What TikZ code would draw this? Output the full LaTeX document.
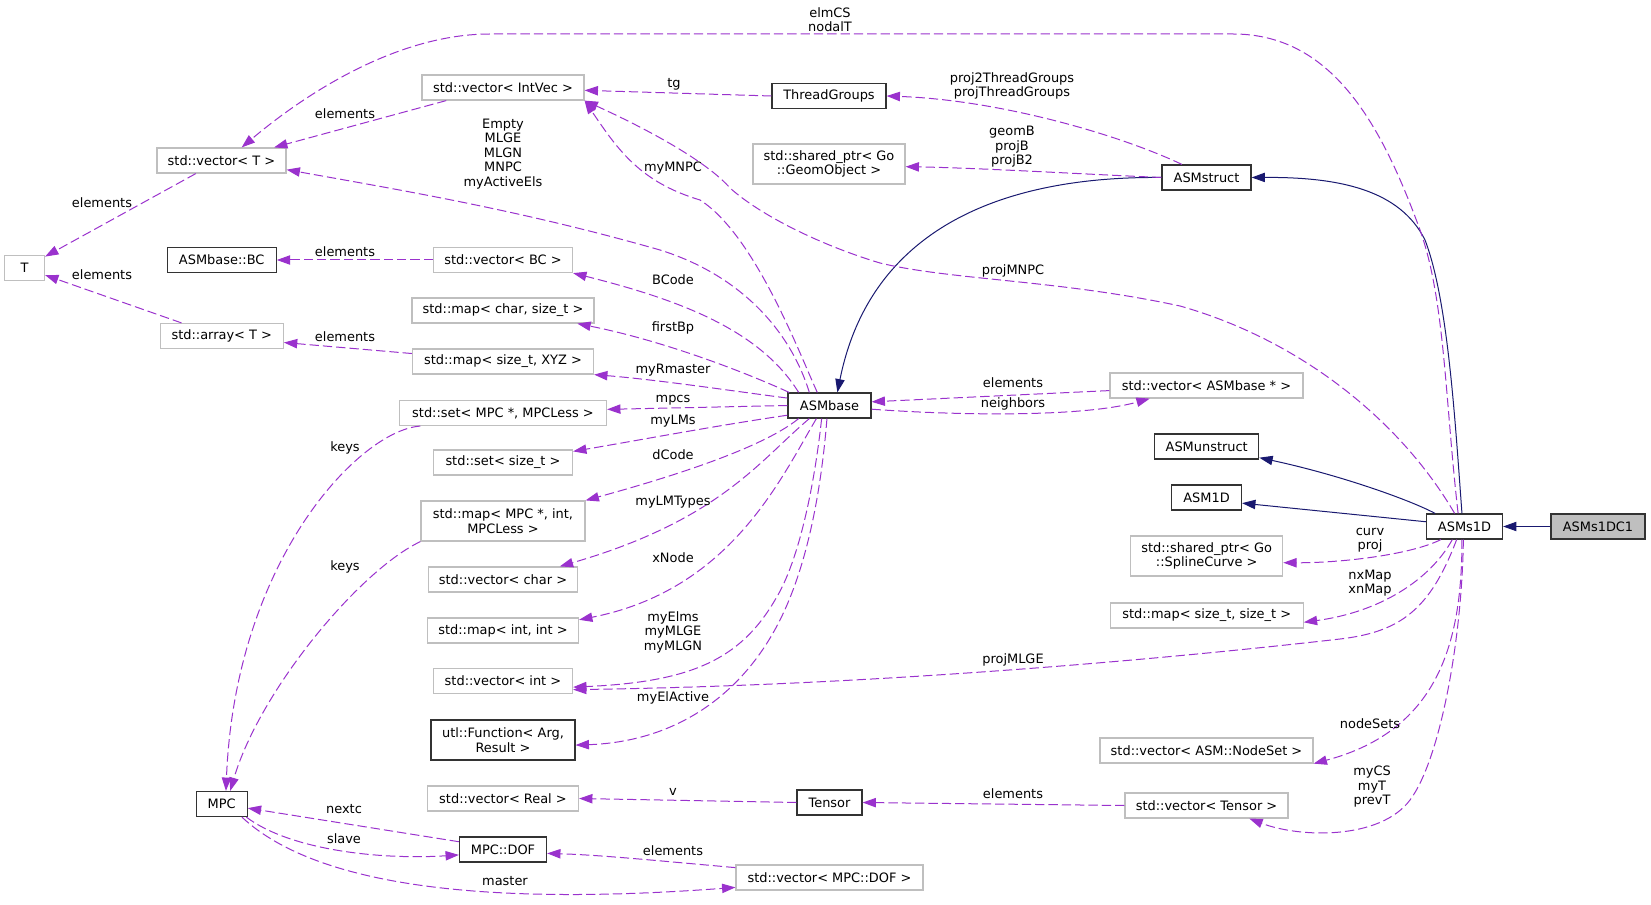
\documentclass[tikz,border=0pt]{standalone}
\usepackage{fontspec}
\setmainfont{DejaVu Sans}
\usetikzlibrary{arrows.meta}
\definecolor{edgeuse}{HTML}{9A32CD}
\definecolor{edgeinh}{HTML}{191970}
\definecolor{undocgray}{HTML}{BFBFBF}

\begin{document}
\begin{tikzpicture}[x=0.75pt,y=-0.75pt,
  every node/.style={font=\fontsize{9.7}{10.9}\selectfont},
  box/.style={draw,inner sep=0pt,minimum height=18.75pt,align=center,fill=white},
  doc/.style={box,draw=black!80,line width=0.9pt},
  undoc/.style={box,draw=undocgray,line width=0.9pt},
  wd/.style={minimum width=#1*0.75pt},
  tall/.style={minimum height=30pt},
  usage/.style={draw=edgeuse,line width=0.75pt,dash pattern=on 7pt off 3pt,-{Triangle[length=10pt,width=7pt]}},
  inherit/.style={draw=edgeinh,line width=0.75pt,-{Triangle[length=10pt,width=7pt]}},
  lbl/.style={align=center,inner sep=0pt}]
\useasboundingbox (0,0) rectangle (1651,905);
% classes
\node[undoc,wd=40] (tnode) at (24.5,268) {T};
\node[undoc,wd=129] (vect) at (221.5,160.5) {std::vector< T >};
\node[doc,wd=109] (bc) at (221.7,260) {ASMbase::BC};
\node[undoc,wd=123] (arrayt) at (221.8,336) {std::array< T >};
\node[doc,wd=51] (mpc) at (221.7,804) {MPC};
\node[undoc,wd=162] (intvec) at (503,87.5) {std::vector< IntVec >};
\node[undoc,wd=139] (vecbc) at (503,260) {std::vector< BC >};
\node[undoc,wd=182] (mapchar) at (503,310.5) {std::map< char, size\_t >};
\node[undoc,wd=181] (mapxyz) at (503,361.5) {std::map< size\_t, XYZ >};
\node[undoc,wd=207] (setmpc) at (503,413) {std::set< MPC *, MPCLess >};
\node[undoc,wd=139] (setsize) at (503,462.5) {std::set< size\_t >};
\node[undoc,wd=164,tall] (mapmpc) at (503,521) {std::map< MPC *, int,\\MPCLess >};
\node[undoc,wd=149] (vecchar) at (503,579.5) {std::vector< char >};
\node[undoc,wd=151] (mapint) at (503,630.5) {std::map< int, int >};
\node[undoc,wd=139] (vecintg) at (503,681) {std::vector< int >};
\node[doc,wd=144,tall] (utlfun) at (503,740) {utl::Function< Arg,\\Result >};
\node[undoc,wd=151] (vecreal) at (503,798.5) {std::vector< Real >};
\node[doc,wd=87] (mpcdof) at (503,849.5) {MPC::DOF};
\node[doc,wd=114] (threadg) at (829,96) {ThreadGroups};
\node[undoc,wd=152,tall] (geomobj) at (829,164) {std::shared\_ptr< Go\\::GeomObject >};
\node[doc,wd=83] (asmbase) at (829.5,405.5) {ASMbase};
\node[doc,wd=65] (tensor) at (829.5,802.5) {Tensor};
\node[undoc,wd=187] (vecdof) at (829.5,877.5) {std::vector< MPC::DOF >};
\node[doc,wd=89] (asmstruct) at (1206.5,177.5) {ASMstruct};
\node[undoc,wd=193] (vecasm) at (1206.5,385.5) {std::vector< ASMbase * >};
\node[doc,wd=104] (asmun) at (1206.7,446.5) {ASMunstruct};
\node[doc,wd=70] (asm1d) at (1206.5,497.5) {ASM1D};
\node[undoc,wd=152,tall] (spline) at (1206.7,556) {std::shared\_ptr< Go\\::SplineCurve >};
\node[undoc,wd=193] (mapss) at (1206.7,615.5) {std::map< size\_t, size\_t >};
\node[undoc,wd=213] (nodeset) at (1206.5,750.5) {std::vector< ASM::NodeSet >};
\node[undoc,wd=163] (vectensor) at (1206.5,805.5) {std::vector< Tensor >};
\node[doc,wd=76] (asms1d) at (1464.5,526.5) {ASMs1D};
\node[doc,wd=94,fill=undocgray] (dc1) at (1598,526.5) {ASMs1DC1};
% inheritance
\draw[inherit] (dc1.west) -- (asms1d.east);
\draw[inherit] (asms1d.173) -- (asm1d.-9);
\draw[inherit] (asms1d.156) .. controls (1410,500) and (1340,475) .. (asmun.-12);
\draw[inherit] (asms1d.101) .. controls (1455,420) and (1448,300) .. (1425,240) .. controls (1400,190) and (1340,177) .. (asmstruct.east);
\draw[inherit] (asmstruct.west) .. controls (1000,176) and (870,230) .. (asmbase.59);
% members
\draw[usage] (asms1d.116) .. controls (1445,400) and (1445,300) .. (1420,230) .. controls (1380,120) and (1330,34) .. (1233,34) -- (490,34) .. controls (400,34) and (310,90) .. (vect.33)
  node[lbl] (l-elmcs) at (830,19.5) {elmCS\\nodalT};
\draw[usage] (intvec.193) -- (vect.14) node[lbl] (l-el1) at (345,114) {elements};
\draw[usage] (threadg.west) -- (intvec.-2) node[lbl] (l-tg) at (674,84) {tg};
\draw[usage] (asmstruct.152) .. controls (1120,135) and (1000,100) .. (threadg.east)
  node[lbl] (l-proj2) at (1012,86) {proj2ThreadGroups\\projThreadGroups};
\draw[usage] (asmstruct.west) .. controls (1080,174) and (980,168) .. (geomobj.-2)
  node[lbl] (l-geomb) at (1012,147) {geomB\\projB\\projB2};
\draw[usage] (asmbase.147) .. controls (790,330) and (740,275) .. (660,250) .. controls (520,210) and (400,190) .. (vect.-8)
  node[lbl] (l-empty) at (503,154) {Empty\\MLGE\\MLGN\\MNPC\\myActiveEls};
\draw[usage] (asmbase.133) .. controls (800,355) and (755,235) .. (700,200) .. controls (640,182) and (618,150) .. (intvec.south east)
  node[lbl] (l-mymnpc) at (673,168) {myMNPC};
\draw[usage] (asms1d.127) .. controls (1400,420) and (1300,340) .. (1180,306) .. controls (1060,280) and (950,280) .. (880,263) .. controls (820,245) and (760,215) .. (730,188) .. controls (710,165) and (660,135) .. (intvec.south east)
  node[lbl] (l-projmnpc) at (1013,271) {projMNPC};
\draw[usage] (vect.207) -- (tnode.29) node[lbl] (l-el2) at (102,203) {elements};
\draw[usage] (arrayt.162) -- (tnode.-19) node[lbl] (l-el3) at (102,275) {elements};
\draw[usage] (vecbc.west) -- (bc.east) node[lbl] (l-el4) at (345,252) {elements};
\draw[usage] (mapxyz.175) -- (arrayt.-6) node[lbl] (l-el5) at (345,337) {elements};
\draw[usage] (asmbase.157) .. controls (760,330) and (680,300) .. (vecbc.south east)
  node[lbl] (l-bcode) at (673,280) {BCode};
\draw[usage] (asmbase.162) .. controls (740,370) and (660,340) .. (mapchar.-10)
  node[lbl] (l-firstbp) at (673,328) {firstBp};
\draw[usage] (asmbase.170) .. controls (740,392) and (660,380) .. (mapxyz.south east)
  node[lbl] (l-myrmaster) at (673,370) {myRmaster};
\draw[usage] (asmbase.west) -- (setmpc.2) node[lbl] (l-mpcs) at (673,400) {mpcs};
\draw[usage] (asmbase.193) .. controls (720,425) and (640,440) .. (setsize.9)
  node[lbl] (l-mylms) at (673,421) {myLMs};
\draw[usage] (asmbase.203) .. controls (760,450) and (660,480) .. (mapmpc.north east)
  node[lbl] (l-dcode) at (673,455) {dCode};
\draw[usage] (asmbase.213) .. controls (760,460) and (720,520) .. (vecchar.13)
  node[lbl] (l-mylmtypes) at (673,502) {myLMTypes};
\draw[usage] (asmbase.225) .. controls (780,480) and (730,590) .. (mapint.8)
  node[lbl] (l-xnode) at (673,558) {xNode};
\draw[usage] (asmbase.239) .. controls (815,480) and (800,560) .. (775,600) .. controls (740,660) and (690,682) .. (vecintg.-5)
  node[lbl] (l-myelms) at (673,632) {myElms\\myMLGE\\myMLGN};
\draw[usage] (asmbase.259) .. controls (822,480) and (810,560) .. (780,620) .. controls (740,700) and (670,742) .. (utlfun.-4)
  node[lbl] (l-myelactive) at (673,698) {myElActive};
\draw[usage] (asmbase.-5) .. controls (950,415) and (1080,418) .. (vecasm.193)
  node[lbl] (l-neighbors) at (1013,404) {neighbors};
\draw[usage] (vecasm.183) -- (asmbase.5) node[lbl] (l-el6) at (1013,383) {elements};
\draw[usage] (asms1d.239) .. controls (1430,610) and (1400,632) .. (1340,639) .. controls (1200,655) and (900,685) .. (vecintg.-7)
  node[lbl] (l-projmlge) at (1013,660) {projMLGE};
\draw[usage] (asms1d.209) .. controls (1410,555) and (1340,563) .. (spline.-5)
  node[lbl] (l-curv) at (1370,540) {curv\\proj};
\draw[usage] (asms1d.227) .. controls (1430,580) and (1380,612) .. (mapss.-4)
  node[lbl] (l-nxmap) at (1370,583) {nxMap\\xnMap};
\draw[usage] (asms1d.259) .. controls (1462,640) and (1440,730) .. (nodeset.south east)
  node[lbl] (l-nodesets) at (1370,724) {nodeSets};
\draw[usage] (asms1d.265) .. controls (1462,640) and (1440,760) .. (1410,800) .. controls (1380,840) and (1300,838) .. (vectensor.-17)
  node[lbl] (l-mycs) at (1372,787) {myCS\\myT\\prevT};
\draw[usage] (setmpc.189) .. controls (360,430) and (235,560) .. (mpc.72)
  node[lbl] (l-keys1) at (345,448) {keys};
\draw[usage] (mapmpc.south west) .. controls (360,570) and (260,690) .. (mpc.57)
  node[lbl] (l-keys2) at (345,567) {keys};
\draw[usage] (mpcdof.170) -- (mpc.-9) node[lbl] (l-nextc) at (344,809) {nextc};
\draw[usage] (mpc.-28) .. controls (290,850) and (380,860) .. (mpcdof.187)
  node[lbl] (l-slave) at (344,839) {slave};
\draw[usage] (mpc.-33) .. controls (320,890) and (500,905) .. (vecdof.186)
  node[lbl] (l-master) at (505,881) {master};
\draw[usage] (vecdof.174) .. controls (650,860) and (600,855) .. (mpcdof.-5)
  node[lbl] (l-el7) at (673,851) {elements};
\draw[usage] (tensor.west) -- (vecreal.east) node[lbl] (l-v) at (673,792) {v};
\draw[usage] (vectensor.west) -- (tensor.east) node[lbl] (l-el8) at (1013,794) {elements};
\end{tikzpicture}
\end{document}
